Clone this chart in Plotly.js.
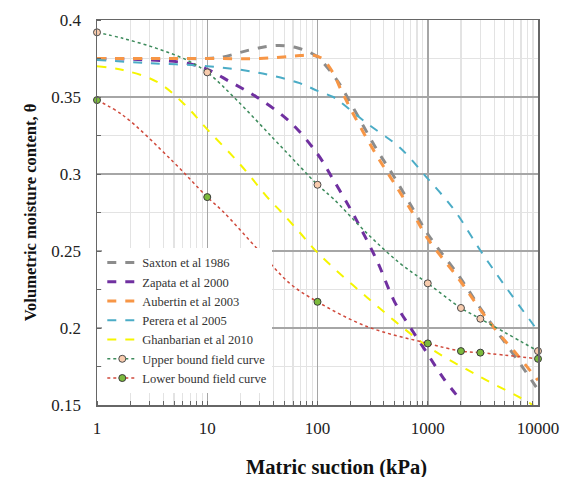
<!DOCTYPE html>
<html><head><meta charset="utf-8">
<script src="https://cdn.plot.ly/plotly-3.0.1.min.js"></script>
<style>body{margin:0;background:#fff}#c{width:571px;height:477px}</style>
</head><body><div id="c"></div>
<script>
// Saxton et al 1986
const saxX = [1, 5, 10, 14, 20, 30, 45, 65, 85, 100, 130, 160, 211, 344, 487, 740, 1000, 1950, 2990, 4220, 6410, 10000];
const saxY = [0.375, 0.375, 0.375, 0.376, 0.379, 0.382, 0.3835, 0.382, 0.379, 0.376, 0.367, 0.358, 0.343, 0.316, 0.299, 0.277, 0.261, 0.233, 0.213, 0.198, 0.180, 0.160];
// Zapata et al 2000
const zapX = [1, 3, 6.5, 10, 16, 28, 56, 100, 140, 200, 250, 350, 500, 700, 1000, 1400, 2000];
const zapY = [0.375, 0.374, 0.372, 0.368, 0.360, 0.350, 0.334, 0.313, 0.296, 0.277, 0.264, 0.243, 0.217, 0.200, 0.183, 0.167, 0.153];
// Aubertin et al 2003
const aubX = [1, 10, 30, 60, 90, 110, 140, 160, 211, 344, 487, 740, 1000, 1950, 2990, 4220, 6410, 10000];
const aubY = [0.375, 0.375, 0.375, 0.3765, 0.3772, 0.375, 0.365, 0.356, 0.339, 0.312, 0.295, 0.274, 0.258, 0.231, 0.212, 0.198, 0.183, 0.166];
// Perera et al 2005
const perX = [1, 3, 10, 28, 69, 100, 139, 160, 280, 560, 1000, 1480, 1850, 2960, 4830, 10000];
const perY = [0.374, 0.372, 0.370, 0.366, 0.359, 0.354, 0.350, 0.347, 0.333, 0.317, 0.297, 0.283, 0.274, 0.251, 0.229, 0.198];
// Ghanbarian et al 2010
const ghaX = [1, 1.72, 3.47, 6.06, 10, 20, 37, 46, 69, 100, 280, 1000, 2960, 8500, 10000];
const ghaY = [0.370, 0.3675, 0.360, 0.346, 0.329, 0.306, 0.283, 0.276, 0.262, 0.249, 0.220, 0.188, 0.1685, 0.151, 0.147];
// Upper bound field curve (line)
const upLineX = [1, 1.73, 3.47, 6.5, 10, 18.5, 39.4, 69, 100, 139, 280, 560, 1000, 2000, 3000, 10000];
const upLineY = [0.392, 0.388, 0.3816, 0.374, 0.366, 0.348, 0.3234, 0.305, 0.293, 0.284, 0.2616, 0.242, 0.229, 0.213, 0.206, 0.185];
// Upper bound measured points
const upPtX = [1, 10, 100, 1000, 2000, 3000, 10000];
const upPtY = [0.392, 0.366, 0.293, 0.229, 0.213, 0.206, 0.185];
// Lower bound field curve (line)
const loLineX = [1, 1.73, 4.9, 10, 13.9, 30, 56, 100, 280, 1000, 2000, 3000, 10000];
const loLineY = [0.348, 0.338, 0.308, 0.285, 0.2756, 0.2496, 0.229, 0.217, 0.201, 0.190, 0.185, 0.184, 0.180];
// Lower bound measured points
const loPtX = [1, 10, 100, 1000, 2000, 3000, 10000];
const loPtY = [0.348, 0.285, 0.217, 0.190, 0.185, 0.184, 0.180];

const xTickVals = [1, 10, 100, 1000, 10000];
const xTickText = ['1', '10', '100', '1000', '10000'];
const yTickVals = [0.15, 0.2, 0.25, 0.3, 0.35, 0.4];
const yTickText = ['0.15', '0.2', '0.25', '0.3', '0.35', '0.4'];

const upColor = '#3d8b5c', loColor = '#d04a3c';
const upFill = '#f8cbad', loFill = '#7cba3d';

const traces = [
  {name:'Saxton et al 1986', x:saxX, y:saxY, mode:'lines', line:{color:'#8c8c8c', width:3, dash:'dash', shape:'spline'}},
  {name:'Zapata et al 2000', x:zapX, y:zapY, mode:'lines', line:{color:'#7030a0', width:3, dash:'dash', shape:'spline'}},
  {name:'Aubertin et al 2003', x:aubX, y:aubY, mode:'lines', line:{color:'#f79646', width:3, dash:'dash', shape:'spline'}},
  {name:'Perera et al 2005', x:perX, y:perY, mode:'lines', line:{color:'#4bacc6', width:2, dash:'dash', shape:'spline'}},
  {name:'Ghanbarian et al 2010', x:ghaX, y:ghaY, mode:'lines', line:{color:'#f5f500', width:2, dash:'dash', shape:'spline'}},
  {x:upLineX, y:upLineY, mode:'lines', showlegend:false, hoverinfo:'skip', line:{color:upColor, width:1.5, dash:'dot', shape:'spline'}},
  {x:loLineX, y:loLineY, mode:'lines', showlegend:false, hoverinfo:'skip', line:{color:loColor, width:1.5, dash:'dot', shape:'spline'}},
  {x:upPtX, y:upPtY, mode:'markers', showlegend:false, cliponaxis:false, marker:{size:7, color:upFill, line:{color:'#4a4a4a', width:1}}},
  {x:loPtX, y:loPtY, mode:'markers', showlegend:false, cliponaxis:false, marker:{size:7, color:loFill, line:{color:'#3a3a3a', width:1}}},
  {name:'Upper bound field curve', x:[null], y:[null], mode:'lines+markers', line:{color:upColor, width:1.5, dash:'dot'}, marker:{size:7, color:upFill, line:{color:'#4a4a4a', width:1}}},
  {name:'Lower bound field curve', x:[null], y:[null], mode:'lines+markers', line:{color:loColor, width:1.5, dash:'dot'}, marker:{size:7, color:loFill, line:{color:'#3a3a3a', width:1}}}
];

const font = 'Liberation Serif, Times New Roman, serif';
const layout = {
  width:571, height:477,
  margin:{l:97, r:33, t:20, b:72},
  paper_bgcolor:'#fff', plot_bgcolor:'#fff',
  font:{family:font, color:'#222', size:14},
  showlegend:true,
  legend:{x:0.012, y:0.408, xanchor:'left', yanchor:'top', bgcolor:'#fff', borderwidth:0,
          font:{family:font, size:12.5, color:'#333'}, tracegroupgap:0, itemwidth:30},
  xaxis:{type:'log', range:[0, 4], tickvals:xTickVals, ticktext:xTickText,
         showline:true, linecolor:'#666', linewidth:1.5, mirror:true,
         showgrid:true, gridcolor:'#a6a6a6', gridwidth:1.5,
         ticks:'', ticklabelstandoff:7, zeroline:false,
         minor:{dtick:'D1', showgrid:true, gridcolor:'#e3e3e3', gridwidth:1.2, ticks:'inside', ticklen:4, tickcolor:'#666'},
         tickfont:{family:font, size:17, color:'#222'}},
  yaxis:{range:[0.15, 0.4], tickvals:yTickVals, ticktext:yTickText,
         showline:true, linecolor:'#666', linewidth:1.5, mirror:true,
         showgrid:true, gridcolor:'#a6a6a6', gridwidth:1.5,
         ticks:'', ticklabelstandoff:11, zeroline:false,
         minor:{dtick:0.025, showgrid:true, gridcolor:'#e3e3e3', gridwidth:1.2, ticks:'inside', ticklen:4, tickcolor:'#666'},
         tickfont:{family:font, size:17, color:'#222'},
         title:{text:'<b>Volumetric moisture content, θ</b>', font:{family:font, size:16.5, color:'#111'}, standoff:10}},
  annotations:[{text:'<b>Matric suction (kPa)</b>', xref:'paper', yref:'paper', x:0.542, y:-0.1636,
                xanchor:'center', yanchor:'middle', showarrow:false,
                font:{family:font, size:20.5, color:'#111'}}]
};
Plotly.newPlot('c', traces, layout, {displayModeBar:false, staticPlot:true});
</script></body></html>
